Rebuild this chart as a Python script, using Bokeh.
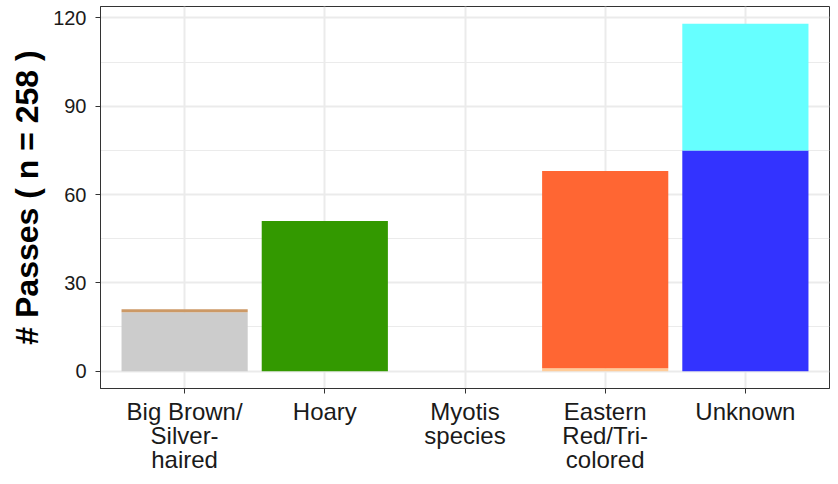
from bokeh.plotting import figure
from bokeh.models import ColumnDataSource, FixedTicker, Range1d
from bokeh.embed import file_html
from bokeh.resources import INLINE

categories = ["Big Brown/\nSilver-\nhaired", "Hoary", "Myotis\nspecies", "Eastern\nRed/Tri-\ncolored", "Unknown"]
lower_values = [20, 51, 0, 1, 75]
upper_values = [1, 0, 0, 67, 43]
lower_colors = ["#CCCCCC", "#339900", "#CCCCCC", "#FFCC99", "#3333FF"]
upper_colors = ["#CC9966", "#339900", "#CCCCCC", "#FF6633", "#66FFFF"]
y_ticks = [0, 30, 60, 90, 120]
y_minor = [15, 45, 75, 105]

xs = list(range(1, len(categories) + 1))
low_src = ColumnDataSource(dict(x=xs, bottom=[0] * len(xs), top=lower_values, color=lower_colors))
up_src = ColumnDataSource(dict(
    x=xs,
    bottom=lower_values,
    top=[l + u for l, u in zip(lower_values, upper_values)],
    color=upper_colors,
))

p = figure(width=830, height=476, output_backend="svg", toolbar_location=None,
           x_range=Range1d(0.4, 5.6), y_range=Range1d(-5.9, 123.9),
           min_border_top=6, min_border_right=1, min_border_left=100, min_border_bottom=82)

p.vbar(x="x", bottom="bottom", top="top", width=0.9, source=low_src,
       fill_color="color", line_color=None)
p.vbar(x="x", bottom="bottom", top="top", width=0.9, source=up_src,
       fill_color="color", line_color=None)

p.xaxis.ticker = FixedTicker(ticks=xs)
p.xaxis.major_label_overrides = {x: c for x, c in zip(xs, categories)}
p.yaxis.ticker = FixedTicker(ticks=y_ticks, minor_ticks=y_minor)

for ax in (p.xaxis[0], p.yaxis[0]):
    ax.major_label_text_font = "Liberation Sans"
    ax.major_label_text_color = "#1A1A1A"
    ax.axis_line_color = "#333333"
    ax.major_tick_line_color = "#333333"
    ax.major_tick_in = 0
    ax.major_tick_out = 5
    ax.minor_tick_line_color = None

p.xaxis.major_label_text_font_size = "24px"
p.xaxis.major_label_text_line_height = 0.9
p.xaxis.major_label_standoff = 4
p.yaxis.major_label_text_font_size = "20px"
p.yaxis.major_label_standoff = 9

p.yaxis.axis_label = "# Passes ( n = 258 )"
p.yaxis.axis_label_text_font = "Liberation Sans"
p.yaxis.axis_label_text_font_style = "bold"
p.yaxis.axis_label_text_font_size = "32px"
p.yaxis.axis_label_text_color = "black"
p.yaxis.axis_label_standoff = 5

p.xgrid.grid_line_color = "#EBEBEB"
p.xgrid.grid_line_width = 2
p.ygrid.grid_line_color = "#EBEBEB"
p.ygrid.grid_line_width = 2
p.ygrid.minor_grid_line_color = "#EBEBEB"
p.ygrid.minor_grid_line_width = 1

p.outline_line_color = "#333333"
p.outline_line_width = 1
p.background_fill_color = "white"
p.border_fill_color = "white"

open("out.html", "w").write(file_html(p, INLINE))
